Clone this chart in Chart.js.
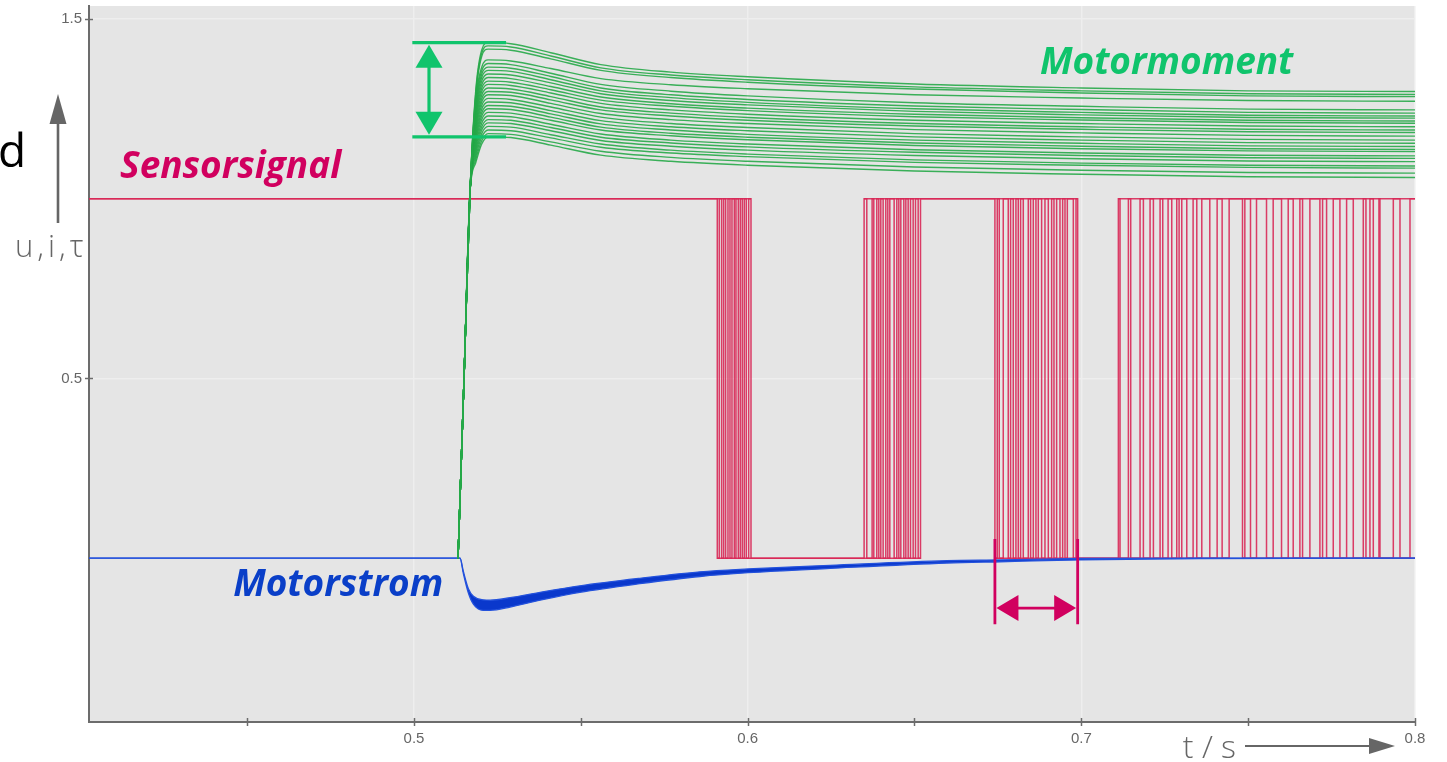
<!DOCTYPE html>
<html>
<head>
<meta charset="utf-8">
<title>Motormoment, Motorstrom, Sensorsignal</title>
<script src="https://cdn.jsdelivr.net/npm/chart.js@4.4.1/dist/chart.umd.min.js"></script>
<style>
  html, body { margin: 0; padding: 0; background: #ffffff; overflow: hidden; }
  canvas { display: block; }
</style>
</head>
<body>
<canvas id="chart" width="1447" height="762"></canvas>
<script>
// ---- axes ----
const tMin = 0.4026, tMax = 0.8;
const vMin = -0.4558, vMax = 1.536;
const xTickValues = [0.45, 0.5, 0.55, 0.6, 0.65, 0.7, 0.75, 0.8];
const xTickLabels = ['', '0.5', '', '0.6', '', '0.7', '', '0.8'];
const yTickValues = [0.5, 1.5];
const yTickLabels = ['0.5', '1.5'];

// ---- Motormoment: 26 runs, shared time base ----
const torqueTimes = [0.5132, 0.5150, 0.5168, 0.5185, 0.5203, 0.5222, 0.529,
                     0.541, 0.556, 0.577, 0.600, 0.650, 0.700, 0.750, 0.800];
const torqueRise = [0, 0.50, 1.02];
const torqueRuns = [
  [1.300,1.414,1.434,1.431,1.406,1.373,1.352,1.339,1.319,1.308,1.300,1.298],
  [1.292,1.405,1.425,1.422,1.397,1.364,1.344,1.331,1.311,1.300,1.292,1.290],
  [1.284,1.396,1.416,1.413,1.389,1.357,1.337,1.324,1.305,1.294,1.286,1.284],
  [1.276,1.366,1.386,1.383,1.362,1.334,1.317,1.306,1.289,1.280,1.273,1.271],
  [1.268,1.356,1.376,1.373,1.349,1.318,1.299,1.286,1.267,1.257,1.249,1.247],
  [1.260,1.346,1.366,1.363,1.340,1.308,1.289,1.276,1.258,1.248,1.240,1.238],
  [1.252,1.337,1.357,1.354,1.331,1.300,1.281,1.268,1.250,1.240,1.232,1.230],
  [1.244,1.327,1.347,1.344,1.322,1.292,1.273,1.261,1.243,1.233,1.226,1.224],
  [1.236,1.317,1.337,1.334,1.312,1.283,1.264,1.252,1.235,1.225,1.218,1.216],
  [1.228,1.307,1.327,1.324,1.303,1.274,1.257,1.245,1.228,1.219,1.212,1.210],
  [1.220,1.298,1.318,1.315,1.294,1.265,1.247,1.235,1.218,1.209,1.202,1.200],
  [1.212,1.288,1.308,1.305,1.284,1.255,1.238,1.226,1.209,1.200,1.193,1.191],
  [1.204,1.278,1.298,1.296,1.275,1.247,1.230,1.218,1.202,1.193,1.186,1.184],
  [1.196,1.269,1.289,1.287,1.265,1.237,1.220,1.209,1.192,1.183,1.176,1.174],
  [1.188,1.259,1.279,1.276,1.255,1.227,1.209,1.198,1.181,1.172,1.165,1.163],
  [1.180,1.249,1.269,1.267,1.245,1.217,1.200,1.189,1.172,1.163,1.156,1.154],
  [1.172,1.239,1.259,1.257,1.236,1.208,1.191,1.179,1.163,1.154,1.147,1.145],
  [1.164,1.230,1.250,1.248,1.227,1.199,1.182,1.171,1.155,1.146,1.139,1.137],
  [1.156,1.220,1.240,1.238,1.218,1.191,1.175,1.164,1.148,1.139,1.133,1.131],
  [1.148,1.210,1.230,1.228,1.207,1.180,1.163,1.152,1.136,1.127,1.121,1.119],
  [1.140,1.200,1.220,1.218,1.198,1.171,1.155,1.144,1.129,1.120,1.114,1.112],
  [1.132,1.191,1.211,1.209,1.189,1.162,1.146,1.135,1.120,1.111,1.105,1.103],
  [1.124,1.181,1.201,1.199,1.178,1.152,1.135,1.124,1.108,1.099,1.093,1.091],
  [1.116,1.171,1.191,1.189,1.169,1.143,1.127,1.117,1.101,1.093,1.087,1.085],
  [1.108,1.161,1.181,1.179,1.158,1.132,1.115,1.104,1.088,1.079,1.073,1.071],
  [1.100,1.152,1.172,1.170,1.149,1.121,1.104,1.093,1.077,1.068,1.061,1.059]
];

// ---- Motorstrom: ripple band (upper / lower envelope) ----
const currentTimes = [0.4026, 0.5138, 0.5148, 0.5163, 0.5178, 0.5207, 0.5228, 0.5288, 0.5378,
                      0.5497, 0.5677, 0.5857, 0.6001, 0.6247, 0.6597, 0.6756, 0.6996, 0.7355, 0.8];
const currentUpper = [0, 0, -0.037, -0.085, -0.106, -0.116, -0.117, -0.110, -0.0950,
                      -0.077, -0.056, -0.038, -0.0300, -0.0200, -0.0070, -0.005, -0.001, 0, 0];
const currentLower = [0, 0, -0.043, -0.097, -0.128, -0.145, -0.145, -0.136, -0.1170,
                      -0.095, -0.071, -0.051, -0.0405, -0.0285, -0.0135, -0.010, -0.005, -0.001, 0];

// ---- Sensorsignal: switching instants (level toggles 1 <-> 0) ----
const sensorInitial = 1;
const sensorEdges = [
  0.5909, 0.5915, 0.5922, 0.5928, 0.5934, 0.5941, 0.5947, 0.5953, 0.5960, 0.5965,
  0.5972, 0.5978, 0.5984, 0.5990, 0.5996, 0.6003, 0.6010,
  0.6349, 0.6357, 0.6373, 0.6378, 0.6387, 0.6393, 0.6399, 0.6406, 0.6414, 0.6420,
  0.6426, 0.6439, 0.6447, 0.6453, 0.6459, 0.6468, 0.6474, 0.6481, 0.6488, 0.6496,
  0.6503, 0.6511, 0.6518,
  0.6741, 0.6748, 0.6754, 0.6766, 0.6781, 0.6788, 0.6796, 0.6804, 0.6811, 0.6818,
  0.6826, 0.6841, 0.6848, 0.6856, 0.6864, 0.6871, 0.6881, 0.6891, 0.6901, 0.6911,
  0.6918, 0.6926, 0.6936, 0.6944, 0.6951, 0.6958, 0.6976, 0.6984, 0.6989,
  0.7111, 0.7116, 0.7141, 0.7148, 0.7176, 0.7186, 0.7206, 0.7216, 0.7236, 0.7244,
  0.7260, 0.7271, 0.7286, 0.7293, 0.7301, 0.7316, 0.7335, 0.7346, 0.7361, 0.7385,
  0.7407, 0.7422, 0.7443,
  0.7483, 0.7490, 0.7507, 0.7525, 0.7555, 0.7575, 0.7600, 0.7620, 0.7635, 0.7655,
  0.7663, 0.7685, 0.7715, 0.7723, 0.7735, 0.7755, 0.7775, 0.7795, 0.7815, 0.7845,
  0.7853, 0.7865, 0.7875, 0.7892, 0.7895, 0.7935, 0.7955, 0.7985
];
// spans where the overlaid runs sit on the high / low level
const sensorHighSpans = [[0.4026, 0.6010], [0.6349, 0.6989], [0.7111, 0.8]];
const sensorLowSpans  = [[0.5909, 0.6518], [0.6741, 0.7443], [0.7483, 0.8]];

// ---- colours ----
const GREEN_TRACE = 'rgba(38,168,72,0.9)';
const GREEN_MARK = '#10c46c';
const RED_TRACE = 'rgba(216,40,86,0.9)';
const MAGENTA = '#d1005f';
const BLUE_LINE = '#2452dc';
const BLUE_FILL = '#0a38cc';
const AXIS_GREY = '#6c6c6c';

// ---- datasets ----
const datasets = [];

torqueRuns.forEach((run, i) => {
  const values = torqueRise.concat(run);
  datasets.push({
    label: i === 0 ? 'Motormoment' : '',
    data: torqueTimes.map((t, k) => ({ x: t, y: values[k] })),
    borderColor: GREEN_TRACE,
    borderWidth: 1.4,
    pointRadius: 0,
    cubicInterpolationMode: 'monotone',
    fill: false,
    order: 0
  });
});

datasets.push({
  label: 'Motorstrom',
  data: currentTimes.map((t, k) => ({ x: t, y: currentUpper[k] })),
  borderColor: BLUE_LINE,
  borderWidth: 1.3,
  pointRadius: 0,
  cubicInterpolationMode: 'monotone',
  fill: false,
  order: 1
});
datasets.push({
  label: 'Motorstrom (Welligkeit)',
  data: currentTimes.map((t, k) => ({ x: t, y: currentLower[k] })),
  borderColor: BLUE_LINE,
  borderWidth: 1.3,
  pointRadius: 0,
  cubicInterpolationMode: 'monotone',
  fill: '-1',
  backgroundColor: BLUE_FILL,
  order: 1
});

// switching trace
const sensorPoints = [{ x: tMin, y: sensorInitial }];
let level = sensorInitial;
sensorEdges.forEach(e => { level = 1 - level; sensorPoints.push({ x: e, y: level }); });
sensorPoints.push({ x: tMax, y: level });
datasets.push({
  label: 'Sensorsignal',
  data: sensorPoints,
  borderColor: RED_TRACE,
  borderWidth: 1.5,
  pointRadius: 0,
  stepped: true,
  fill: false,
  order: 2
});

function spanPoints(spans, y) {
  const pts = [];
  spans.forEach(([a, b]) => { pts.push({ x: a, y: y }, { x: b, y: y }, { x: b, y: null }); });
  return pts;
}
datasets.push({
  label: 'Sensorsignal high',
  data: spanPoints(sensorHighSpans, 1),
  borderColor: RED_TRACE, borderWidth: 1.5, pointRadius: 0, spanGaps: false, fill: false, order: 2
});
datasets.push({
  label: 'Sensorsignal low',
  data: spanPoints(sensorLowSpans, 0),
  borderColor: RED_TRACE, borderWidth: 1.5, pointRadius: 0, spanGaps: false, fill: false, order: 2
});

// ---- plugins ----
const plotBackground = {
  id: 'plotBackground',
  beforeDraw(chart) {
    const { ctx, chartArea: a } = chart;
    ctx.save();
    ctx.fillStyle = '#ffffff';
    ctx.fillRect(0, 0, chart.width, chart.height);
    ctx.fillStyle = '#e5e5e5';
    ctx.fillRect(a.left, a.top, a.right - a.left, a.bottom - a.top);
    ctx.restore();
  }
};

function arrowHead(ctx, tipX, tipY, dirX, dirY, len, half) {
  const bx = tipX - dirX * len, by = tipY - dirY * len;
  const nx = -dirY, ny = dirX;
  ctx.beginPath();
  ctx.moveTo(tipX, tipY);
  ctx.lineTo(bx + nx * half, by + ny * half);
  ctx.lineTo(bx - nx * half, by - ny * half);
  ctx.closePath();
  ctx.fill();
}

const decorations = {
  id: 'decorations',
  afterDraw(chart) {
    const { ctx, chartArea: a } = chart;
    const xs = chart.scales.x, ys = chart.scales.y;
    ctx.save();

    // tick marks crossing the axis lines
    ctx.strokeStyle = AXIS_GREY;
    ctx.lineWidth = 1.5;
    xs.ticks.forEach((tk, i) => {
      const px = Math.round(xs.getPixelForTick(i)) + 0.5;
      ctx.beginPath(); ctx.moveTo(px, a.bottom - 4); ctx.lineTo(px, a.bottom + 4); ctx.stroke();
    });
    ys.ticks.forEach((tk, i) => {
      const py = Math.round(ys.getPixelForTick(i)) + 0.5;
      ctx.beginPath(); ctx.moveTo(a.left - 4, py); ctx.lineTo(a.left + 4, py); ctx.stroke();
    });

    // torque ripple: band between highest and lowest peak
    const peaks = torqueRuns.map(r => Math.max(...r));
    const pkHi = ys.getPixelForValue(Math.max(...peaks));
    const pkLo = ys.getPixelForValue(Math.min(...peaks));
    const gx0 = xs.getPixelForValue(0.4995), gx1 = xs.getPixelForValue(0.5276);
    const gxa = xs.getPixelForValue(0.5045);
    ctx.strokeStyle = GREEN_MARK; ctx.fillStyle = GREEN_MARK;
    ctx.lineWidth = 3.2;
    ctx.beginPath();
    ctx.moveTo(gx0, pkHi); ctx.lineTo(gx1, pkHi);
    ctx.moveTo(gx0, pkLo); ctx.lineTo(gx1, pkLo);
    ctx.moveTo(gxa, pkHi + 20); ctx.lineTo(gxa, pkLo - 20);
    ctx.stroke();
    arrowHead(ctx, gxa, pkHi + 2, 0, -1, 23, 13.5);
    arrowHead(ctx, gxa, pkLo - 2, 0, 1, 23, 13.5);

    // sensor burst width
    const burst = sensorEdges.filter(e => e > 0.67 && e < 0.70);
    const mx0 = xs.getPixelForValue(burst[0]), mx1 = xs.getPixelForValue(burst[burst.length - 1]);
    const my0 = ys.getPixelForValue(0.053), my1 = ys.getPixelForValue(-0.184);
    const mya = ys.getPixelForValue(-0.139);
    ctx.strokeStyle = MAGENTA; ctx.fillStyle = MAGENTA;
    ctx.lineWidth = 2.8;
    ctx.beginPath();
    ctx.moveTo(mx0, my0); ctx.lineTo(mx0, my1);
    ctx.moveTo(mx1, my0); ctx.lineTo(mx1, my1);
    ctx.moveTo(mx0 + 18, mya); ctx.lineTo(mx1 - 18, mya);
    ctx.stroke();
    arrowHead(ctx, mx0 + 1.5, mya, -1, 0, 22, 13);
    arrowHead(ctx, mx1 - 1.5, mya, 1, 0, 22, 13);

    // series names
    ctx.textBaseline = 'middle';
    ctx.textAlign = 'left';
    ctx.font = 'italic bold 37px "Open Sans", "Noto Sans", sans-serif';
    ctx.fillStyle = MAGENTA;
    ctx.fillText('Sensorsignal', xs.getPixelForValue(0.4119), ys.getPixelForValue(1.088));
    ctx.fillStyle = GREEN_MARK;
    ctx.fillText('Motormoment', xs.getPixelForValue(0.6876), ys.getPixelForValue(1.3775));
    ctx.fillStyle = '#0a3fc8';
    ctx.fillText('Motorstrom', xs.getPixelForValue(0.4458), ys.getPixelForValue(-0.0773));

    // quantity arrow and names, left side
    ctx.fillStyle = '#666666'; ctx.strokeStyle = '#666666';
    const ax = a.left - 31;
    ctx.lineWidth = 2.6;
    ctx.beginPath(); ctx.moveTo(ax, 223); ctx.lineTo(ax, 120); ctx.stroke();
    arrowHead(ctx, ax, 94, 0, -1, 30, 8.5);
    ctx.textAlign = 'left';
    ctx.textBaseline = 'alphabetic';
    ctx.font = '300 31px "Open Sans", "Noto Sans", sans-serif';
    ctx.letterSpacing = '4px';
    ctx.fillText('u,i,\u03c4', 15, 257);
    ctx.letterSpacing = '0px';
    ctx.fillStyle = '#000000';
    ctx.font = '46px "Open Sans", "Noto Sans", sans-serif';
    ctx.fillText('d', -2, 167);

    // time arrow, bottom right
    ctx.fillStyle = '#666666'; ctx.strokeStyle = '#666666';
    const ay = a.bottom + 24;
    ctx.lineWidth = 2;
    ctx.beginPath(); ctx.moveTo(a.right - 170, ay); ctx.lineTo(a.right - 40, ay); ctx.stroke();
    arrowHead(ctx, a.right - 20, ay, 1, 0, 26, 8);
    ctx.font = '300 32px "Open Sans", "Noto Sans", sans-serif';
    ctx.textAlign = 'right';
    ctx.fillText('t / s', a.right - 179, a.bottom + 36);

    ctx.restore();
  }
};

// ---- chart ----
new Chart(document.getElementById('chart'), {
  type: 'line',
  data: { datasets },
  options: {
    responsive: false,
    animation: false,
    events: [],
    layout: { padding: { left: 0, top: 6, right: 32, bottom: 0 } },
    plugins: { legend: { display: false }, tooltip: { enabled: false } },
    scales: {
      x: {
        type: 'linear',
        min: tMin,
        max: tMax,
        afterBuildTicks: s => { s.ticks = xTickValues.map(v => ({ value: v })); },
        afterFit: s => { s.height = 40; s.paddingLeft = 0; s.paddingRight = 0; },
        ticks: {
          autoSkip: false,
          maxRotation: 0,
          padding: 8,
          color: '#666666',
          font: { family: '"Liberation Sans", Arial, sans-serif', size: 15 },
          callback: (v, i) => xTickLabels[i]
        },
        grid: {
          drawTicks: false,
          color: ctx => (ctx.tick && xTickLabels[ctx.index] !== '' ? '#eeeeee' : 'rgba(0,0,0,0)'),
          lineWidth: 1.5
        },
        border: { display: true, color: AXIS_GREY, width: 2 }
      },
      y: {
        type: 'linear',
        min: vMin,
        max: vMax,
        afterBuildTicks: s => { s.ticks = yTickValues.map(v => ({ value: v })); },
        afterFit: s => { s.width = 89; s.paddingTop = 0; s.paddingBottom = 0; },
        ticks: {
          autoSkip: false,
          padding: 7,
          color: '#666666',
          font: { family: '"Liberation Sans", Arial, sans-serif', size: 15 },
          callback: (v, i) => yTickLabels[i]
        },
        grid: { drawTicks: false, color: '#eeeeee', lineWidth: 1.5 },
        border: { display: true, color: AXIS_GREY, width: 2 }
      }
    }
  },
  plugins: [plotBackground, decorations]
});
</script>
</body>
</html>
